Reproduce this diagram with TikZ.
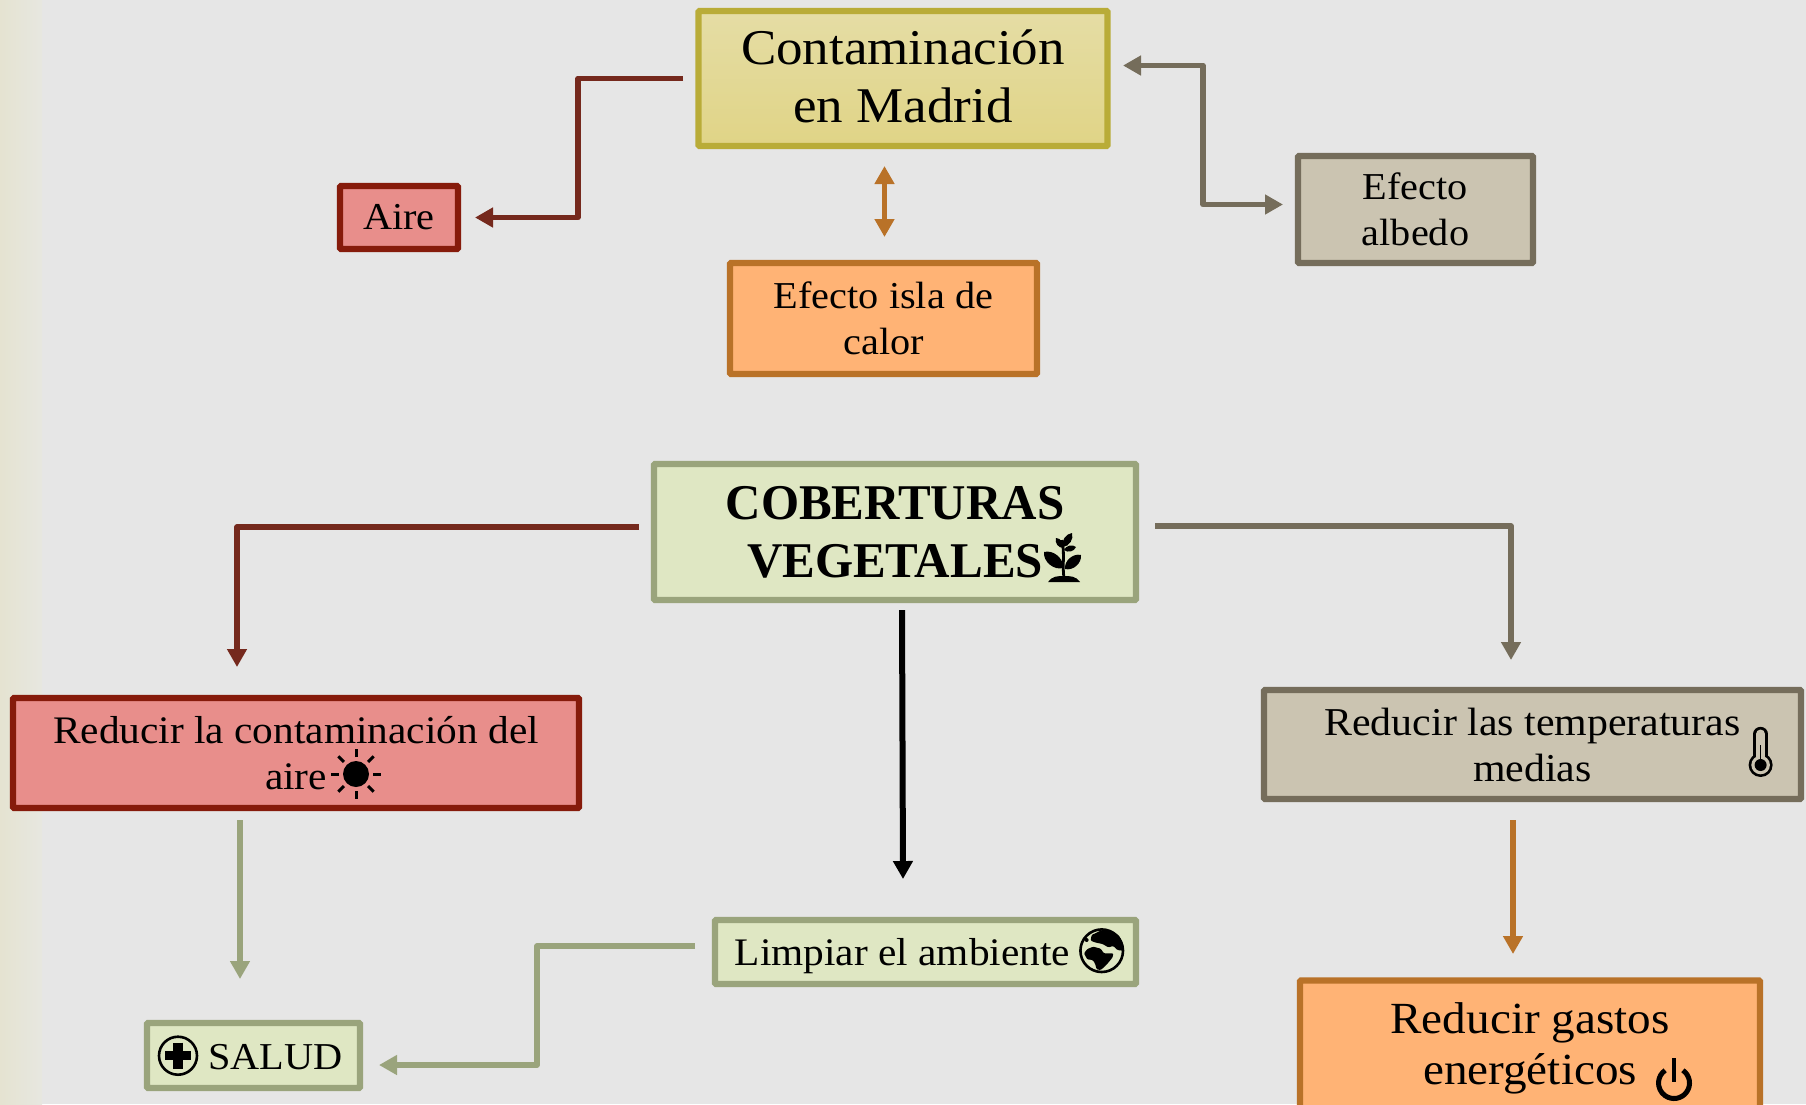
\documentclass[tikz,border=0pt]{standalone}
\usepackage{fontspec}
\setmainfont[FakeStretch=1.06]{Liberation Serif}
\newfontfamily\boldfam[FakeStretch=0.98]{Liberation Serif}
\usetikzlibrary{arrows.meta,shadows,calc}
\definecolor{bgc}{HTML}{E6E6E6}
\definecolor{bgl}{HTML}{E5E3D1}
\definecolor{bgm}{HTML}{E7E7E0}
\definecolor{redf}{HTML}{E88E8B}
\definecolor{redb}{HTML}{861B0B}
\definecolor{redl}{HTML}{75291D}
\definecolor{begf}{HTML}{CBC4B1}
\definecolor{begb}{HTML}{756D5B}
\definecolor{oraf}{HTML}{FFB375}
\definecolor{orab}{HTML}{B97228}
\definecolor{grnf}{HTML}{DFE7C3}
\definecolor{grnb}{HTML}{9AA47C}
\definecolor{yelt}{HTML}{E5DDA5}
\definecolor{yelm}{HTML}{E0D486}
\definecolor{yelb}{HTML}{B9AC38}
\tikzset{
 x=1pt,y=-1pt,
 box/.style={draw,line width=6.2pt,rounded corners=1pt,align=center,inner sep=0pt,outer sep=0pt,text=black,
   drop shadow={shadow xshift=1pt,shadow yshift=-2pt,opacity=.18,fill=black}},
 redbox/.style={box,draw=redb,fill=redf},
 begbox/.style={box,draw=begb,fill=begf},
 orabox/.style={box,draw=orab,fill=oraf},
 grnbox/.style={box,draw=grnb,fill=grnf},
 yelbox/.style={box,draw=yelb,top color=yelt,bottom color=yelm},
 conn/.style={line width=5.5pt,line join=round,-{Triangle[length=18pt,width=19pt]}},
 dconn/.style={line width=5.5pt,line join=round,{Triangle[length=18pt,width=19pt]}-{Triangle[length=18pt,width=19pt]}},
}
\newcommand{\leafshape}[3]{\fill #1 to[bend left=#3] #2 to[bend left=#3] #1;}
\begin{document}
\begin{tikzpicture}
\useasboundingbox (0,0) rectangle (1806,1104);
\fill[bgc] (0,0) rectangle (1806,1104);
\shade[left color=bgl,right color=bgm,draw=none] (0,0) rectangle (42,1104);
% nodes
\node[yelbox,minimum width=409pt,minimum height=135pt,font=\fontsize{50}{58}\selectfont] (contam) at (903,78.5) {Contaminación\\en Madrid\rule[-4pt]{0pt}{0pt}};
\node[redbox,minimum width=118pt,minimum height=63pt,font=\fontsize{38}{46}\selectfont] (aire) at (399,217.5) {Aire};
\node[begbox,minimum width=235pt,minimum height=107pt,font=\fontsize{38}{46}\selectfont] (albedo) at (1415.5,209.5) {Efecto\\albedo};
\node[orabox,minimum width=307pt,minimum height=111pt,font=\fontsize{38}{46}\selectfont] (isla) at (883.5,318.5) {Efecto isla de\\calor};
\node[grnbox,minimum width=482pt,minimum height=136pt,font=\boldfam\bfseries\fontsize{50}{58}\selectfont] (cober) at (895,532) {COBERTURAS\\VEGETALES};
\node[redbox,minimum width=566pt,minimum height=110pt,font=\fontsize{39}{46}\selectfont] (aireb) at (296,753) {Reducir la contaminación del\\aire};
\node[begbox,minimum width=537pt,minimum height=109pt,font=\fontsize{39.5}{46}\selectfont] (temp) at (1532.5,744.5) {Reducir las temperaturas\\medias};
\node[grnbox,minimum width=421pt,minimum height=64pt,font=\fontsize{39}{46}\selectfont] (limp) at (925.5,952) {\rule{0pt}{36pt}\hspace*{-46pt}Limpiar el ambiente};
\node[grnbox,minimum width=213pt,minimum height=65pt,font=\fontsize{38}{46}\selectfont] (salud) at (253.5,1055.5) {\rule{0pt}{29pt}\hspace*{44pt}SALUD};
\node[orabox,minimum width=460pt,minimum height=135pt,font=\fontsize{44.5}{51}\selectfont] (gastos) at (1530,1048) {Reducir gastos\\energéticos};
% connector ends
\coordinate (c1a) at ([xshift=-15.5pt]contam.west);
\coordinate (c1b) at ([xshift=17pt]aire.east);
\coordinate (m1) at (578,0);
\coordinate (c2a) at ([xshift=15.5pt,yshift=13pt]contam.east);
\coordinate (c2b) at ([xshift=-15pt,yshift=5pt]albedo.west);
\coordinate (m2) at (1203,0);
\coordinate (c3a) at ([xshift=-18.5pt,yshift=-20pt]contam.south);
\coordinate (c3b) at ([xshift=1pt,yshift=26pt]isla.north);
\coordinate (c4a) at ([xshift=-15pt,yshift=5pt]cober.west);
\coordinate (c4b) at (237,667);
\coordinate (c5a) at ([xshift=19pt,yshift=6pt]cober.east);
\coordinate (c5b) at (1511,660);
\coordinate (c6a) at ([xshift=7pt,yshift=-10pt]cober.south);
\coordinate (c6b) at ([xshift=-22.5pt,yshift=41pt]limp.north);
\coordinate (c7a) at (240,820);
\coordinate (c7b) at (240,979);
\coordinate (c8a) at ([xshift=-20pt,yshift=6pt]limp.west);
\coordinate (c8b) at ([xshift=19pt,yshift=-9.5pt]salud.east);
\coordinate (m8) at (537,0);
\coordinate (c9a) at (1513,820);
\coordinate (c9b) at (1513,954);
% connectors
\draw[conn,redl] (c1a) -- (c1a-|m1) -- (c1b-|m1) -- (c1b);
\draw[dconn,orab] (c3a) -- (c3b);
\draw[dconn,begb] (c2a) -- (c2a-|m2) -- (c2b-|m2) -- (c2b);
\draw[conn,redl] (c4a) -- (c4a-|c4b) -- (c4b);
\draw[conn,begb] (c5a) -- (c5a-|c5b) -- (c5b);
\draw[conn,black,line width=6pt] (c6a) -- (c6b);
\draw[conn,grnb] (c7a) -- (c7b);
\draw[conn,grnb] (c8a) -- (c8a-|m8) -- (c8b-|m8) -- (c8b);
\draw[conn,orab] (c9a) -- (c9b);
% sun icon
\begin{scope}[shift={(356,774)}]
\fill (0,0) circle (13);
\foreach \a in {0,45,...,315}{\draw[line width=3pt] (\a:17) -- (\a:25);}
\end{scope}
% plant icon
\fill (1048,582) .. controls (1052,576) and (1058,576) .. (1064,576) .. controls (1070,576) and (1076,576) .. (1080,582) -- cycle;
\draw[line width=2.8pt] (1064,578) .. controls (1062,565) and (1065,555) .. (1062,540);
\leafshape{(1063,568)}{(1044,552)}{55}
\leafshape{(1065,569)}{(1081,555)}{55}
\leafshape{(1063,548)}{(1056,538)}{55}
\leafshape{(1063,547)}{(1072,533)}{50}
\leafshape{(1064,550)}{(1076,547)}{55}
% plus icon
\begin{scope}[shift={(178,1055.7)}]
\draw[line width=2.6pt] (0,0) circle (19);
\draw[line width=9.5pt] (-13,0) -- (13,0);
\draw[line width=9.5pt] (0,-13) -- (0,13);
\end{scope}
% globe icon
\draw[line width=2.6pt] (1101.7,950.7) circle (21.3);
\begin{scope}[shift={(680,900)},scale=0.3333]
\fill[rounded corners=1pt] (1212,160) -- (1222,147) -- (1240,140) -- (1262,146) -- (1272,160) -- (1300,160) -- (1298,172) -- (1285,188) -- (1274,200) -- (1262,210) -- (1250,208) -- (1245,190) -- (1238,180) -- (1222,178) -- cycle;
\fill[rounded corners=1pt] (1235,105) -- (1262,92) -- (1295,92) -- (1318,108) -- (1330,135) -- (1328,152) -- (1312,150) -- (1300,138) -- (1285,142) -- (1268,132) -- (1248,128) -- (1232,122) -- cycle;
\fill (1220,120) circle (6);
\end{scope}
% thermometer icon
\begin{scope}[shift={(1760.6,0)}]
\draw[line width=14.4pt,line cap=round,black] (0,734) -- (0,760);
\fill[black] (0,765) circle (12);
\draw[line width=9pt,line cap=round,begf] (0,734) -- (0,760);
\fill[begf] (0,765) circle (9.3);
\fill[black] (0,765) circle (6);
\draw[line width=1pt,black] (0,745) -- (0,762);
\end{scope}
% power icon
\draw[line width=5pt] (1682.9,1070.3) arc[start angle=55,end angle=-235,radius=15.5pt];
\draw[line width=4.6pt] (1674,1058) -- (1674,1082);
\end{tikzpicture}
\end{document}
